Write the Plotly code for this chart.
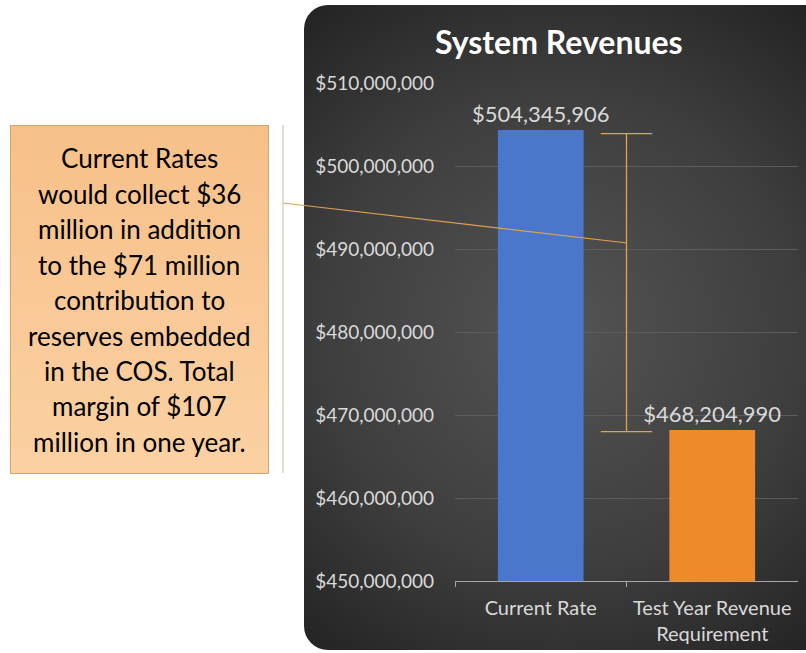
import base64
import plotly.graph_objects as go

# ---- data ----
categories = ["Current Rate", "Test Year Revenue<br>Requirement"]
revenues = [504345906, 468204990]
bar_colors = ["#4a77c9", "#ed8b2b"]
bracket_top = 503.9e6
bracket_bottom = 468.0e6
y_ticks = [450e6, 460e6, 470e6, 480e6, 490e6, 500e6, 510e6]
y_tick_text = ["$" + f"{v:,.0f}" for v in y_ticks]
title_text = "System Revenues"
callout_lines = [
    "Current Rates",
    "would collect $36",
    "million in addition",
    "to the $71 million",
    "contribution to",
    "reserves embedded",
    "in the COS. Total",
    "margin of $107",
    "million in one year.",
]

W, H = 806, 653
FONT = "Lato"


def px(x):
    return x / W


def py(y):
    return 1 - y / H


# background artwork (dark rounded panel + callout box) as an SVG
svg = f"""<svg xmlns='http://www.w3.org/2000/svg' width='{W}' height='{H}' viewBox='0 0 {W} {H}'>
<defs>
<radialGradient id='g' cx='560' cy='330' r='430' gradientUnits='userSpaceOnUse'>
<stop offset='0' stop-color='#545454'/>
<stop offset='0.55' stop-color='#3e3e3e'/>
<stop offset='1' stop-color='#202020'/>
</radialGradient>
<linearGradient id='b' x1='0' y1='0' x2='0' y2='1'>
<stop offset='0' stop-color='#f7c089'/>
<stop offset='1' stop-color='#fbd1a3'/>
</linearGradient>
</defs>
<rect x='304' y='5' width='540' height='645' rx='24' ry='24' fill='url(#g)'/>
<rect x='10.5' y='125.5' width='258' height='348' fill='url(#b)' stroke='#d3a46c' stroke-width='1'/>
</svg>"""
svg_uri = "data:image/svg+xml;base64," + base64.b64encode(svg.encode()).decode()

fig = go.Figure()
fig.add_trace(go.Bar(
    x=categories,
    y=revenues,
    marker=dict(color=bar_colors, line=dict(width=0)),
    texttemplate="$%{y:,.0f}",
    textposition="outside",
    constraintext="none",
    textfont=dict(family=FONT, size=22, color="#d9d9d9"),
    cliponaxis=False,
    hoverinfo="skip",
))

shapes = []
# bracket between the two revenue levels
line_c = "#e8a33c"
shapes.append(dict(type="line", xref="x", yref="y", x0=0.5, x1=0.5,
                   y0=bracket_bottom, y1=bracket_top, line=dict(color=line_c, width=1.3)))
for yv in (bracket_top, bracket_bottom):
    shapes.append(dict(type="line", xref="x", yref="y", x0=0.35, x1=0.65,
                       y0=yv, y1=yv, line=dict(color=line_c, width=1.3)))
# callout connector and its vertical edge
shapes.append(dict(type="line", xref="paper", yref="paper", x0=px(283), y0=py(203),
                   x1=px(627), y1=py(243), line=dict(color="#e0a052", width=1.2)))
shapes.append(dict(type="line", xref="paper", yref="paper", x0=px(283), y0=py(125),
                   x1=px(283), y1=py(473), line=dict(color="#cdbba0", width=1)))

annotations = [dict(
    text=f"<b>{title_text}</b>", x=px(559), y=py(42), xref="paper", yref="paper",
    showarrow=False, font=dict(family=FONT, size=32, color="#ffffff"),
    xanchor="center", yanchor="middle")]
for i, ln in enumerate(callout_lines):
    annotations.append(dict(
        text=ln, x=px(139), y=py(158 + i * 35.5), xref="paper", yref="paper",
        showarrow=False, font=dict(family=FONT, size=26, color="#000000"),
        xanchor="center", yanchor="middle"))

fig.update_layout(
    width=W, height=H,
    margin=dict(l=0, r=0, t=0, b=0),
    paper_bgcolor="#ffffff",
    plot_bgcolor="rgba(0,0,0,0)",
    showlegend=False,
    bargap=0.5,
    shapes=shapes,
    annotations=annotations,
    images=[dict(source=svg_uri, xref="paper", yref="paper", x=0, y=1,
                 sizex=1, sizey=1, xanchor="left", yanchor="top",
                 sizing="stretch", layer="below")],
    xaxis=dict(
        domain=[455 / W, 798 / W], showgrid=False, showline=True,
        linecolor="#a6a6a6", linewidth=1, ticks="outside", tickson="boundaries",
        ticklen=5, tickcolor="#a6a6a6", automargin=False,
        tickfont=dict(family=FONT, size=20, color="#d9d9d9"),
        ticklabelstandoff=9,
    ),
    yaxis=dict(
        domain=[1 - 581 / H, 1 - 83 / H], range=[450e6, 510e6],
        tickvals=y_ticks, ticktext=y_tick_text,
        showgrid=True, gridcolor="#5c5c5c", gridwidth=1, zeroline=False,
        showline=False, ticks="", automargin=False,
        tickfont=dict(family=FONT, size=19, color="#d9d9d9"),
        ticklabelstandoff=20,
    ),
)

fig.write_html("out.html", config={"displayModeBar": False},
               post_script="document.body.style.margin='0';")
